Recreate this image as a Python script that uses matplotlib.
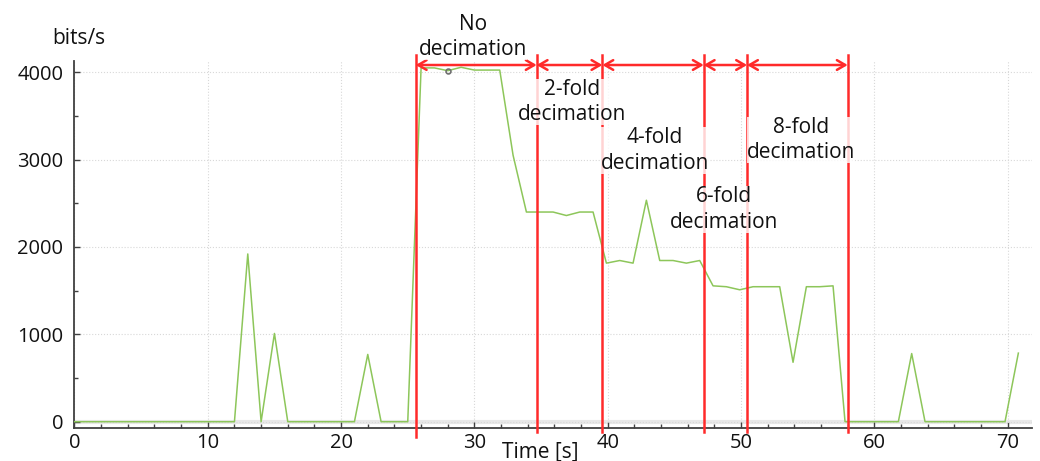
import matplotlib
matplotlib.use('Agg')
import matplotlib.pyplot as plt
from matplotlib.ticker import MultipleLocator

plt.rcParams['font.family'] = ['Open Sans', 'DejaVu Sans']

times = [0, 1, 2, 3, 4, 5, 6, 7, 8, 9, 10, 11, 12, 13, 14, 15, 16, 17, 18, 19,
         20, 21, 22, 23, 24, 25, 26, 27, 28, 29, 30, 31, 31.9, 32.9, 33.9, 34.9,
         35.9, 36.9, 37.9, 38.9, 39.9, 40.9, 41.9, 42.9, 43.9, 44.9, 45.9, 46.9,
         47.9, 48.9, 49.9, 50.9, 51.9, 52.9, 53.9, 54.9, 55.9, 56.9, 57.8, 58.8,
         59.8, 60.8, 61.8, 62.8, 63.8, 64.8, 65.8, 66.8, 67.8, 68.8, 69.8, 70.8]
bitrate = [0, 0, 0, 0, 0, 0, 0, 0, 0, 0, 0, 0, 0, 1920, 0, 1010, 0, 0, 0, 0,
           0, 0, 770, 0, 0, 0, 4050, 4050, 4018, 4057, 4025, 4025, 4025, 3050, 2400, 2400,
           2400, 2360, 2400, 2400, 1815, 1845, 1815, 2535, 1845, 1845, 1815, 1845,
           1555, 1545, 1510, 1545, 1545, 1545, 680, 1545, 1545, 1555, 0, 0,
           0, 0, 0, 780, 0, 0, 0, 0, 0, 0, 0, 785]

hover_t = [28]
hover_v = [4018]

bounds = [25.6, 34.67, 39.6, 47.2, 50.45, 58.0]
phase_labels = ['No\ndecimation', '2-fold\ndecimation', '4-fold\ndecimation',
                '6-fold\ndecimation', '8-fold\ndecimation']
label_x = [29.9, 37.3, 43.55, 48.7, 54.5]
label_y = [4404, 3660, 3100, 2433, 3225]

red = '#ff2a2a'

fig = plt.figure(figsize=(10.4, 4.61), dpi=100)
ax = fig.add_axes([0.0716, 0.0722, 0.9204, 0.7955])

ax.axhline(0, color='#e8e8e8', lw=3, zorder=1)
ax.plot(times, bitrate, color='#8dc65a', lw=1.1, zorder=3)
ax.plot(hover_t, hover_v, 'o', ms=3.5, mfc='none', mec='#707070', mew=1.2, zorder=4)

# phase boundaries
for i, b in enumerate(bounds):
    low = -175 if i == 0 else -115
    ax.plot([b, b], [low, 4200], color=red, lw=1.8, clip_on=False, zorder=5)
for a, b in zip(bounds[:-1], bounds[1:]):
    ax.annotate('', xy=(b, 4083), xytext=(a, 4083), annotation_clip=False,
                arrowprops=dict(arrowstyle='<->,head_length=0.6,head_width=0.35',
                                color=red, lw=1.8, shrinkA=0, shrinkB=0), zorder=5)

for txt, x, y in zip(phase_labels, label_x, label_y):
    ax.text(x, y, txt, ha='center', va='center', fontsize=15, linespacing=1.3,
            color='#111111', zorder=6, clip_on=False,
            bbox=dict(facecolor='white', edgecolor='none', alpha=0.8, pad=0))

ax.set_xlim(0, 71.8)
ax.set_ylim(-69, 4129)
ax.xaxis.set_major_locator(MultipleLocator(10))
ax.xaxis.set_minor_locator(MultipleLocator(2))
ax.yaxis.set_major_locator(MultipleLocator(1000))
ax.yaxis.set_minor_locator(MultipleLocator(500))
ax.tick_params(which='both', direction='in', color='#404040', labelsize=14.5,
               labelcolor='#111111', width=1)
ax.tick_params(which='major', length=4, pad=4)
ax.tick_params(axis='y', which='major', pad=8)
ax.tick_params(which='minor', length=3)
ax.grid(True, which='major', color='#d8d8d8', ls=':', lw=0.8)
for s in ['top', 'right']:
    ax.spines[s].set_visible(False)
for s in ['left', 'bottom']:
    ax.spines[s].set_color('#404040')
    ax.spines[s].set_linewidth(1.3)

fig.text(540 / 1040, 1 - 452 / 461, 'Time [s]', ha='center', va='center',
         fontsize=15, color='#111111')
fig.text(79 / 1040, 1 - 38 / 461, 'bits/s', ha='center', va='center',
         fontsize=15, color='#111111')

fig.savefig('out.png', dpi=100)
